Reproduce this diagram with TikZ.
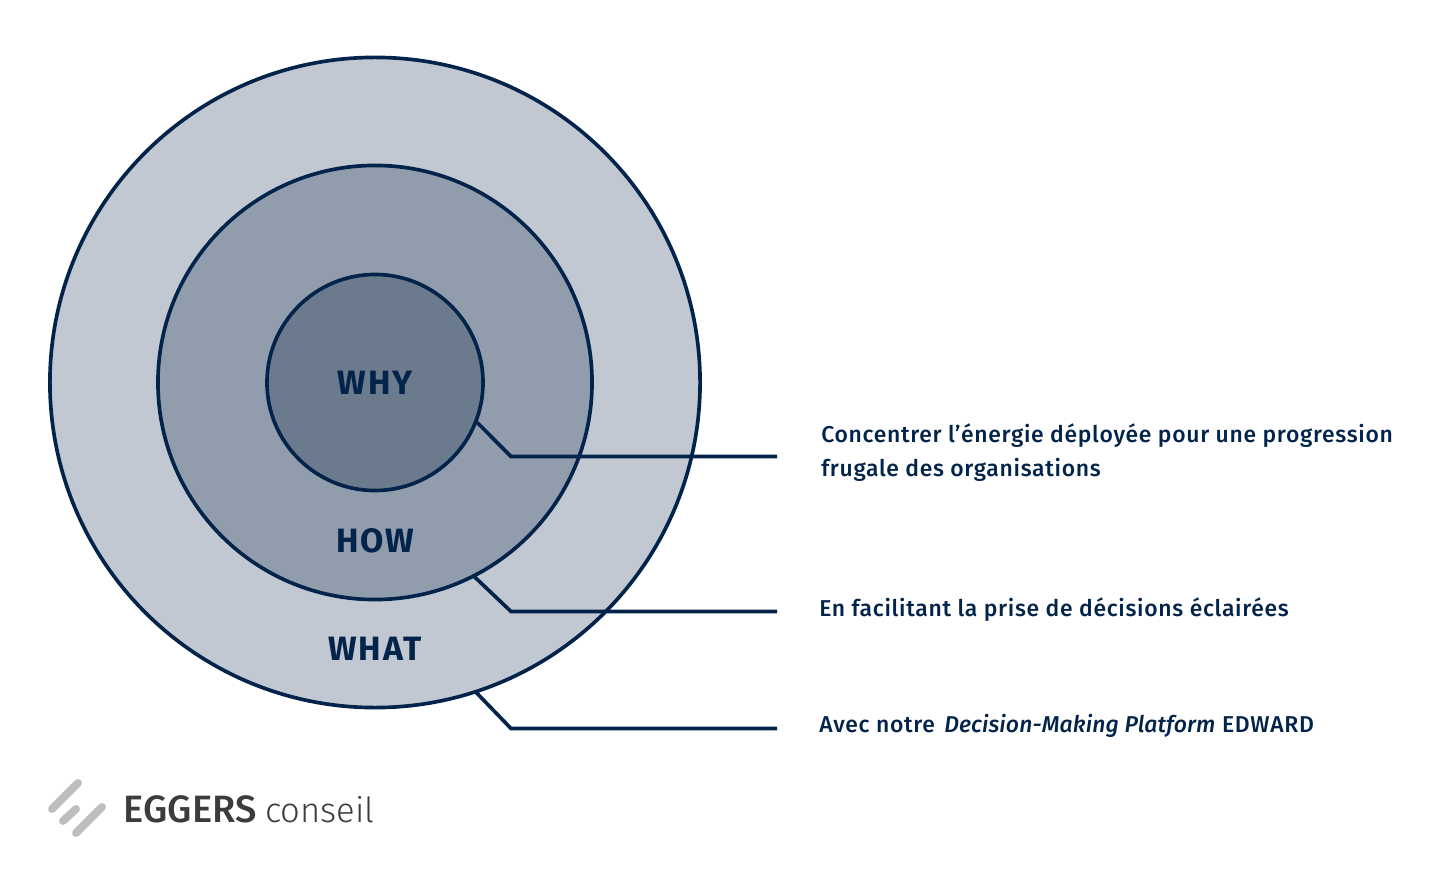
\documentclass[tikz,border=0pt]{standalone}
\usepackage{fontspec}
\setmainfont{Fira Sans}
\newfontfamily\descfont[LetterSpace=3,ItalicFont={Fira Sans Medium Italic},ItalicFeatures={LetterSpace=0.6}]{Fira Sans Medium}
\newfontfamily\titlefont[LetterSpace=5]{Fira Sans Bold}
\newfontfamily\logofont{Fira Sans Medium}
\newfontfamily\logolight{Fira Sans Light}
\usepackage{xcolor}
\usetikzlibrary{positioning}
\definecolor{navy}{RGB}{2,35,74}
\definecolor{ringwhat}{RGB}{193,200,209}
\definecolor{ringhow}{RGB}{145,157,173}
\definecolor{ringwhy}{RGB}{108,122,141}
\definecolor{logogray}{RGB}{189,189,189}
\definecolor{logotext}{RGB}{60,60,60}

\begin{document}
\begin{tikzpicture}[
  x=0.025cm, y=-0.025cm,
  ring/.style={
    draw=navy, circle, line width=2.6pt,
    inner sep=0pt, outer sep=0pt
  },
  title/.style={font=\titlefont\fontsize{24}{28}\selectfont, text=navy, inner sep=0pt},
  desc/.style={
    font=\descfont\fontsize{16.3}{24.2}\selectfont, text=navy, anchor=west,
    align=left, inner sep=0pt
  },
  link/.style={draw=navy, line width=2.6pt, line join=miter},
  stroke/.style={draw=logogray, line width=5.6pt, line cap=round},
]
\useasboundingbox (0,0) rectangle (1440,880);

% Circles
\node[ring, fill=ringwhat, minimum size=16.25cm] (what) at (375,382.5) {};
\node[ring, fill=ringhow, minimum size=10.85cm] (how) at (375,382.5) {};
\node[ring, fill=ringwhy, minimum size=5.4cm] (why) at (375,382.5) {};

% Titles
\node[title] (whylabel) at (375,383) {WHY};
\node[title] (howlabel) at (375,541) {HOW};
\node[title] (whatlabel) at (375,649) {WHAT};

% Descriptions
\node[desc] (whytext) at (821,452.5) {Concentrer l’énergie déployée pour une progression\\frugale des organisations};
\node[desc] (howtext) at (819,609.5) {En facilitant la prise de décisions éclairées};
\node[desc] (whattext) at (819,725.5) {Avec notre\hspace{2pt} \textit{Decision-Making Platform} EDWARD};

% Connectors
\coordinate (whyknee) at (511,456.5);
\coordinate (whyend) at (777,456.5);
\coordinate (howknee) at (511,611.5);
\coordinate (howend) at (777,611.5);
\coordinate (whatknee) at (511,728.5);
\coordinate (whatend) at (777,728.5);
\draw[link] (why.-21) -- (whyknee) -- (whyend);
\draw[link] (how.-63) -- (howknee) -- (howend);
\draw[link] (what.-72.5) -- (whatknee) -- (whatend);

% Logo
\draw[stroke] (52,809) -- (78,783);
\draw[stroke] (63,821) -- (76,809);
\draw[stroke] (76,833) -- (102,807);
\node[anchor=west, inner sep=0pt, text=logotext] (logo) at (123.5,809) {{\logofont\fontsize{27.1}{30}\selectfont EGGERS}\hspace{6pt}{\logolight\fontsize{24.6}{30}\selectfont conseil}};

\end{tikzpicture}
\end{document}
